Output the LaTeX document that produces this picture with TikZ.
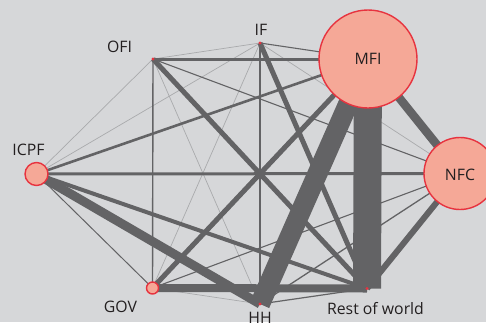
\documentclass[tikz,border=0pt]{standalone}
\usepackage{fontspec}
\setmainfont{Open Sans}
\definecolor{bg}{HTML}{D6D7D9}
\definecolor{edgedark}{HTML}{636365}
\definecolor{edgelight}{HTML}{A9AAAC}
\definecolor{nodefill}{HTML}{F5A897}
\definecolor{nodeline}{HTML}{E7333F}
\definecolor{txt}{HTML}{231F20}
\tikzset{
  lnk/.style={draw=edgedark, line width=#1},
  lite/.style={draw=edgelight, line width=0.7},
  bignode/.style={circle, fill=nodefill, draw=nodeline, line width=1.4, inner sep=0pt, minimum size=#1},
  dot/.style={circle, fill=nodeline, inner sep=0pt, minimum size=3.2},
  lbl/.style={anchor=base, text=txt, font=\fontsize{15.8}{18}\selectfont, inner sep=0pt},
}
\begin{document}
\begin{tikzpicture}[x=1pt,y=-1pt]
\fill[bg] (0,0) rectangle (486,322);
\useasboundingbox (0,0) rectangle (486,322);
% node centres
\coordinate (OFI) at (153,59);
\coordinate (IF) at (260,43);
\coordinate (MFI) at (368,59);
\coordinate (NFC) at (460,173.5);
\coordinate (ICPF) at (36.5,174);
\coordinate (GOV) at (152.5,288);
\coordinate (HH) at (260,304);
\coordinate (RoW) at (367,288.5);
% light edges
\draw[lite] (OFI) -- (IF);
\draw[lite] (OFI) -- (ICPF);
\draw[lite] (OFI) -- (HH);
\draw[lite] (IF) -- (ICPF);
\draw[lite] (IF) -- (GOV);
\draw[lite] (IF) -- (NFC);
\draw[lite] (GOV) -- (HH);
% thin dark edges
\draw[lnk=1.1] (OFI) -- (NFC);
\draw[lnk=1.4] (OFI) -- (GOV);
\draw[lnk=1.1] (IF) -- (MFI);
\draw[lnk=1.3] (IF) -- (HH);
\draw[lnk=1.0] (ICPF) -- (GOV);
\draw[lnk=1.1] (GOV) -- (NFC);
\draw[lnk=1.3] (HH) -- (NFC);
\draw[lnk=1.2] (HH) -- (RoW);
% medium edges
\draw[lnk=3] (OFI) -- (MFI);
\draw[lnk=2.6] (ICPF) -- (MFI);
\draw[lnk=3] (ICPF) -- (NFC);
\draw[lnk=4] (ICPF) -- (RoW);
\draw[lnk=5] (OFI) -- (RoW);
\draw[lnk=5] (IF) -- (RoW);
\draw[lnk=5] (GOV) -- (MFI);
% thick edges
\draw[lnk=8] (GOV) -- (RoW);
\draw[lnk=8.5] (MFI) -- (NFC);
\draw[lnk=6] (RoW) -- (NFC);
\draw[lnk=9] (ICPF) -- (HH);
\draw[lnk=20] (HH) -- (MFI);
\draw[lnk=28] (RoW) -- (MFI);
% nodes
\node[bignode=98] (nMFI) at (MFI) {};
\node[bignode=72] (nNFC) at (NFC) {};
\node[bignode=23] (nICPF) at (ICPF) {};
\node[bignode=12] (nGOV) at (GOV) {};
\node[dot] (nOFI) at (OFI) {};
\node[dot] (nIF) at (IF) {};
\node[dot] (nHH) at (HH) {};
\node[dot] (nRoW) at (RoW) {};
% labels
\node[lbl] (tOFI) at (119.5,52) {OFI};
\node[lbl] (tIF) at (261,35) {IF};
\node[lbl] (tMFI) at (368,64.3) {MFI};
\node[lbl] (tNFC) at (460,180) {NFC};
\node[lbl] (tICPF) at (28.5,155) {ICPF};
\node[lbl] (tGOV) at (120.5,312) {GOV};
\node[lbl] (tHH) at (260,323) {HH};
\node[lbl] (tRoW) at (375.5,314) {Rest of world};
\end{tikzpicture}
\end{document}
